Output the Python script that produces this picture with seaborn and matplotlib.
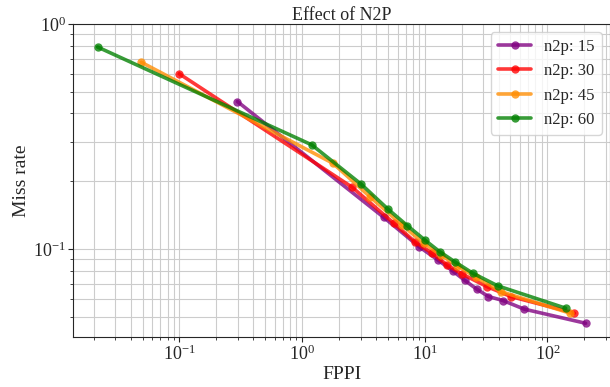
import matplotlib
matplotlib.use("Agg")
import matplotlib.pyplot as plt
import seaborn as sns
import pandas as pd

# values (log-log)
fppi_15 = [0.297, 4.64, 9.05, 12.8, 17.0, 21.1, 26.6, 33.1, 43.6, 64.6, 205]
miss_15 = [0.452, 0.138, 0.102, 0.0893, 0.0796, 0.0726, 0.0662, 0.0614, 0.0589, 0.054, 0.0467]

fppi_30 = [0.0995, 2.56, 5.6, 8.4, 11.5, 15.2, 20.1, 32.1, 50.4, 166]
miss_30 = [0.601, 0.188, 0.130, 0.107, 0.0957, 0.0849, 0.0774, 0.068, 0.0614, 0.0518]

fppi_45 = [0.0488, 1.79, 3.6, 6.5, 9.8, 13.5, 18.5, 26.0, 41.7, 153]
miss_45 = [0.676, 0.240, 0.170, 0.128, 0.106, 0.094, 0.084, 0.075, 0.0646, 0.0518]

fppi_60 = [0.0215, 1.2, 3.03, 5.03, 7.2, 10.0, 13.2, 17.5, 24.6, 39.4, 141]
miss_60 = [0.79, 0.290, 0.194, 0.150, 0.127, 0.1096, 0.0973, 0.0878, 0.078, 0.0685, 0.0545]

labels = ["n2p: 15", "n2p: 30", "n2p: 45", "n2p: 60"]
colors = ["purple", "red", "darkorange", "green"]

frames = []
for lab, xs, ys in zip(labels, [fppi_15, fppi_30, fppi_45, fppi_60],
                       [miss_15, miss_30, miss_45, miss_60]):
    frames.append(pd.DataFrame({"FPPI": xs, "Miss rate": ys, "series": lab}))
df = pd.concat(frames, ignore_index=True)

sns.set_style("ticks")
plt.rcParams["font.family"] = ["Liberation Serif", "DejaVu Serif"]
plt.rcParams["mathtext.fontset"] = "stix"

fig, ax = plt.subplots(figsize=(6.1, 3.87), dpi=100)
fig.subplots_adjust(left=0.12, right=1.0, top=0.938, bottom=0.129)

sns.lineplot(data=df, x="FPPI", y="Miss rate", hue="series", palette=colors,
             marker="o", markersize=6, markeredgewidth=0, linewidth=2.6,
             alpha=0.78, estimator=None, sort=False, ax=ax)

ax.set_xscale("log")
ax.set_yscale("log")
ax.set_ylim(top=1.0)
ax.grid(True, which="both", color="#cccccc", linewidth=0.8)
ax.set_axisbelow(True)

ax.set_title("Effect of N2P", fontsize=13, pad=3)
ax.set_xlabel("FPPI", fontsize=14, labelpad=1)
ax.set_ylabel("Miss rate", fontsize=14, labelpad=2)
ax.tick_params(labelsize=13, pad=2)

leg = ax.legend(loc="upper right", fontsize=12, frameon=True)
for line in leg.get_lines():
    line.set_linewidth(2.6)

fig.savefig("out.png", dpi=100)
